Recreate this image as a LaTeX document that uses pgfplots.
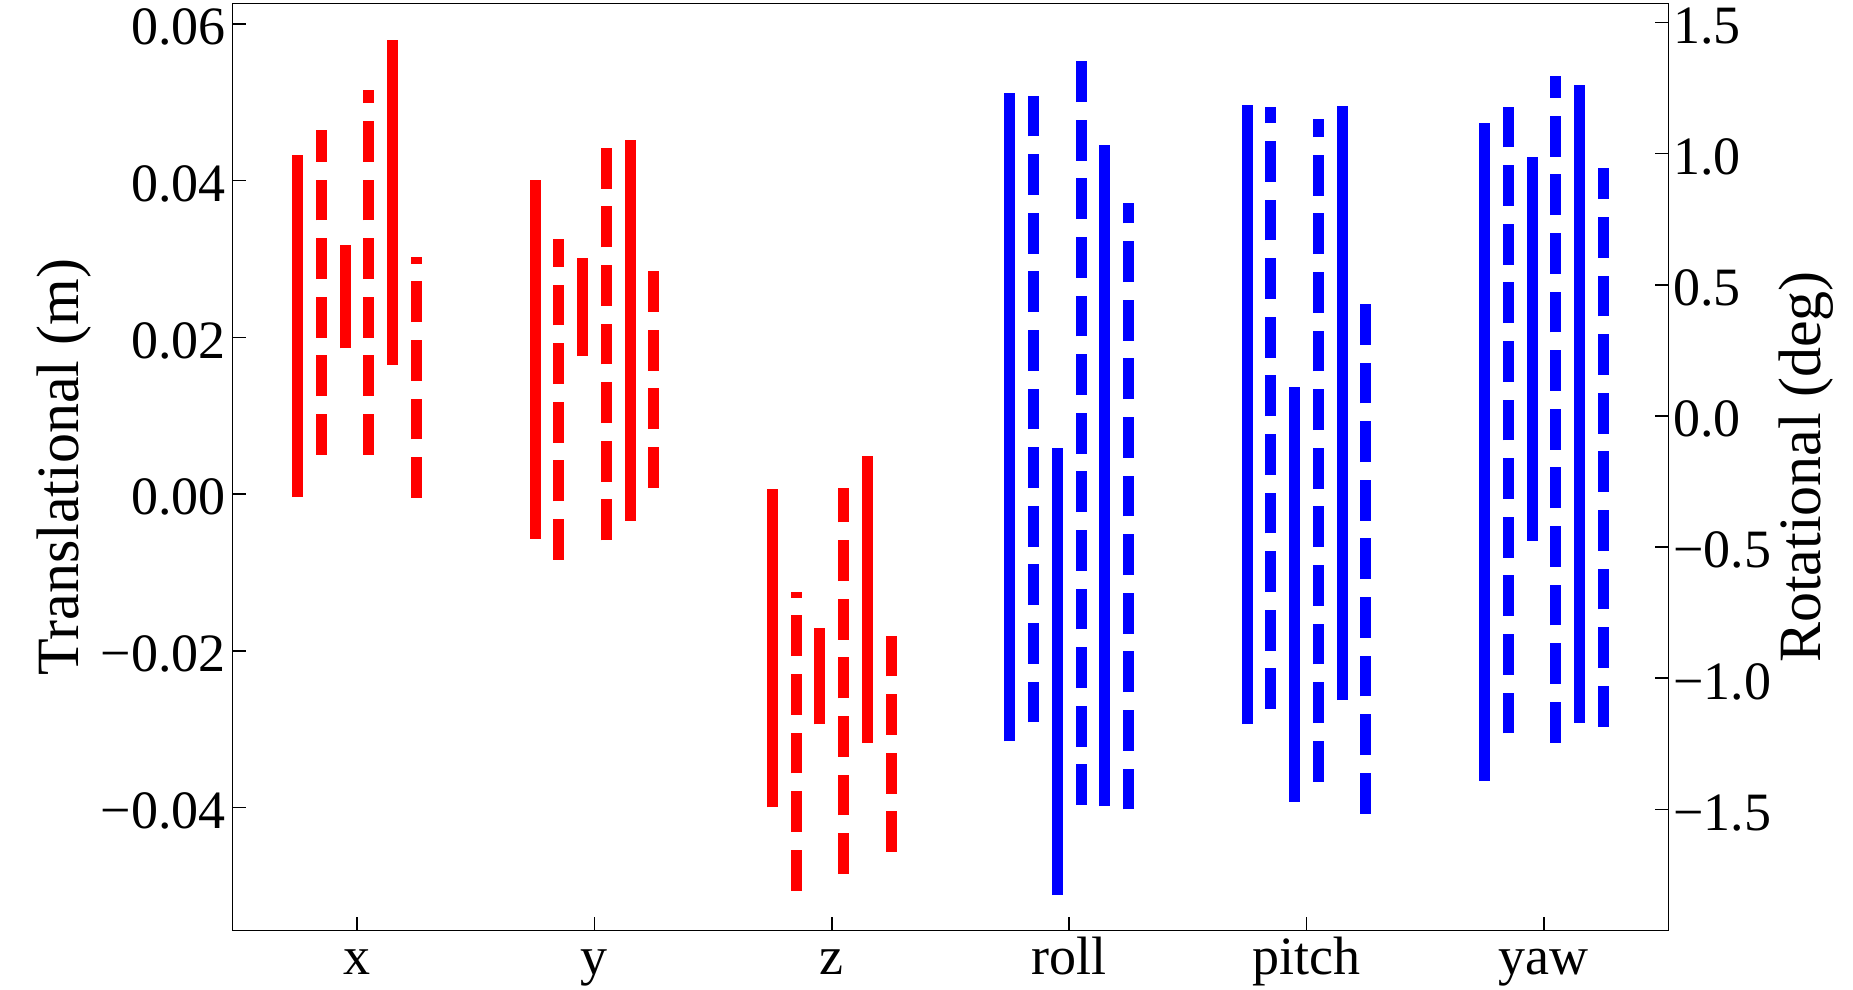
\documentclass[border=0pt]{standalone}
\usepackage{pgfplots}
\pgfplotsset{compat=1.18}
\usepackage{fontspec}
\setmainfont{Liberation Serif}
\begin{document}
\begin{tikzpicture}
\pgfplotsset{
  common/.style={
    width=359pt, height=231.75pt, scale only axis,
    xmin=-0.525, xmax=5.525,
    tick align=inside,
    major tick length=3.5pt,
    tick style={black, line width=0.4pt},
    axis line style={line width=0.4pt},
    ticklabel style={font=\fontsize{13.5}{16}\selectfont},
    label style={font=\fontsize{15}{18}\selectfont},
    scaled y ticks=false,
  },
  sol/.style={line width=2.75pt},
  das/.style={line width=2.75pt, dash pattern=on 10.2pt off 4.45pt},
}
\begin{axis}[common, name=main,
  ymin=-0.0557, ymax=0.0626,
  xtick={0,1,2,3,4,5}, xticklabels={x,y,z,roll,pitch,yaw},
  xtick pos=bottom, ytick pos=left,
  ytick={-0.04,-0.02,0,0.02,0.04,0.06},
  yticklabels={−0.04,−0.02,0.00,0.02,0.04,0.06},
  xticklabel style={anchor=base, yshift=-11.1pt},
  yticklabel style={inner xsep=1.5pt, yshift=-0.8pt},
  ylabel={Translational (m)},
  ylabel style={at={(rel axis cs:-0.1170,0.5)}, anchor=center},
]
% x
\addplot[red, sol] coordinates {(-0.25,-0.0004) (-0.25,0.0432)};
\addplot[red, das] coordinates {(-0.15,0.0050) (-0.15,0.0465)};
\addplot[red, sol] coordinates {(-0.05,0.0186) (-0.05,0.0318)};
\addplot[red, das] coordinates {(0.05,0.0050) (0.05,0.0516)};
\addplot[red, sol] coordinates {(0.15,0.0165) (0.15,0.0579)};
\addplot[red, das] coordinates {(0.25,-0.0005) (0.25,0.0302)};
% y
\addplot[red, sol] coordinates {(0.75,-0.0057) (0.75,0.0401)};
\addplot[red, das] coordinates {(0.85,-0.0084) (0.85,0.0325)};
\addplot[red, sol] coordinates {(0.95,0.0176) (0.95,0.0301)};
\addplot[red, das] coordinates {(1.05,-0.0059) (1.05,0.0444)};
\addplot[red, sol] coordinates {(1.15,-0.0034) (1.15,0.0452)};
\addplot[red, das] coordinates {(1.25,0.0008) (1.25,0.0285)};
% z
\addplot[red, sol] coordinates {(1.75,-0.0400) (1.75,0.0007)};
\addplot[red, das] coordinates {(1.85,-0.0506) (1.85,-0.0125)};
\addplot[red, sol] coordinates {(1.95,-0.0294) (1.95,-0.0171)};
\addplot[red, das] coordinates {(2.05,-0.0485) (2.05,0.0008)};
\addplot[red, sol] coordinates {(2.15,-0.0318) (2.15,0.0048)};
\addplot[red, das] coordinates {(2.25,-0.0457) (2.25,-0.0178)};
\end{axis}
\begin{axis}[common,
  ymin=-1.9615, ymax=1.572,
  axis x line=none, axis y line*=right,
  ytick={-1.5,-1,-0.5,0,0.5,1,1.5},
  yticklabels={−1.5,−1.0,−0.5,0.0,0.5,1.0,1.5},
  yticklabel style={inner xsep=1pt, yshift=-0.8pt},
  ylabel={Rotational (deg)},
  ylabel style={at={(rel axis cs:1.0958,0.5)}, anchor=center},
]
% roll
\addplot[blue, sol] coordinates {(2.75,-1.241) (2.75,1.230)};
\addplot[blue, das] coordinates {(2.85,-1.168) (2.85,1.236)};
\addplot[blue, sol] coordinates {(2.95,-1.827) (2.95,-0.122)};
\addplot[blue, das] coordinates {(3.05,-1.484) (3.05,1.369)};
\addplot[blue, sol] coordinates {(3.15,-1.487) (3.15,1.031)};
\addplot[blue, das] coordinates {(3.25,-1.500) (3.25,0.810)};
% pitch
\addplot[blue, sol] coordinates {(3.75,-1.175) (3.75,1.184)};
\addplot[blue, das] coordinates {(3.85,-1.118) (3.85,1.177)};
\addplot[blue, sol] coordinates {(3.95,-1.471) (3.95,0.111)};
\addplot[blue, das] coordinates {(4.05,-1.394) (4.05,1.131)};
\addplot[blue, sol] coordinates {(4.15,-1.083) (4.15,1.180)};
\addplot[blue, das] coordinates {(4.25,-1.516) (4.25,0.439)};
% yaw
\addplot[blue, sol] coordinates {(4.75,-1.392) (4.75,1.115)};
\addplot[blue, das] coordinates {(4.85,-1.210) (4.85,1.194)};
\addplot[blue, sol] coordinates {(4.95,-0.476) (4.95,0.986)};
\addplot[blue, das] coordinates {(5.05,-1.245) (5.05,1.294)};
\addplot[blue, sol] coordinates {(5.15,-1.169) (5.15,1.261)};
\addplot[blue, das] coordinates {(5.25,-1.184) (5.25,0.946)};
\end{axis}
\pgfresetboundingbox
\path[use as bounding box] ([shift={(-58.125pt,-14.625pt)}]main.south west) rectangle ([shift={(46.125pt,0.875pt)}]main.north east);
\end{tikzpicture}
\end{document}
